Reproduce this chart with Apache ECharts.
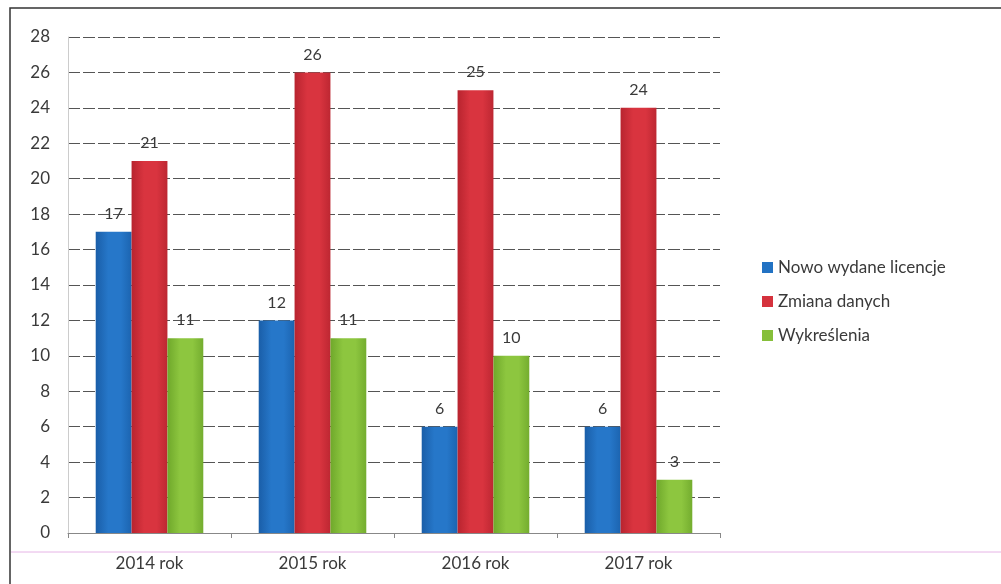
<!DOCTYPE html>
<html><head><meta charset="utf-8">
<script src="https://cdn.jsdelivr.net/npm/echarts@6/dist/echarts.min.js"></script>
<style>html,body{margin:0;padding:0;background:#fff}#c{width:1001px;height:584px}</style>
</head><body><div id="c"></div>
<script>
const categories = ['2014 rok','2015 rok','2016 rok','2017 rok'];
const nowoWydane = [17, 12, 6, 6];
const zmianaDanych = [21, 26, 25, 24];
const wykreslenia = [11, 11, 10, 3];
const seriesNames = ['Nowo wydane licencje','Zmiana danych','Wykreślenia'];

function grad(dark, mid, light){
  return new echarts.graphic.LinearGradient(0,0,1,0,[
    {offset:0,color:dark},{offset:0.35,color:mid},{offset:0.7,color:mid},{offset:1,color:light}]);
}
const colors = [
  grad('#1a5ea8','#2677c9','#1c64b0'),
  grad('#b8242f','#d9343f','#bd2732'),
  grad('#6fa82b','#8dc63f','#74ad2f')
];
const legendColors = ['#2272c3','#d5323d','#86bf3a'];
const FONT = 'Lato';

const chart = echarts.init(document.getElementById('c'));
const mk = (name, data, i) => ({
  name, type:'bar', data, barGap:'0%', barCategoryGap:'34%',
  itemStyle:{color:colors[i]},
  label:{show:true, position:'top', color:'#3a3a3a', fontSize:16, fontFamily:FONT, distance:10}
});
chart.setOption({
  animation:false,
  color: legendColors,
  graphic:[
    {type:'rect', shape:{x:10,y:8,width:1000,height:590}, style:{fill:'none',stroke:'#333',lineWidth:1.5}, z:-1},
    {type:'line', shape:{x1:11,y1:552,x2:1001,y2:552}, style:{stroke:'#e6b4e6',lineWidth:1}}
  ],
  grid:{left:68, right:281, top:37, bottom:51, containLabel:false},
  legend:{
    orient:'vertical', left:757, top:254, itemGap:17, itemWidth:11, itemHeight:11,
    icon:'rect',
    textStyle:{fontSize:17, color:'#3a3a3a', fontFamily:FONT},
    data:seriesNames.map((n,i)=>({name:n, itemStyle:{color:legendColors[i]}}))
  },
  xAxis:{
    type:'category', data:categories,
    axisLine:{show:true, lineStyle:{color:'#888'}},
    axisTick:{show:true, alignWithLabel:false, lineStyle:{color:'#888'}},
    axisLabel:{fontSize:17, color:'#3a3a3a', margin:22, fontFamily:FONT}
  },
  yAxis:{
    type:'value', min:0, max:28, interval:2,
    axisLine:{show:true, lineStyle:{color:'#ccc'}},
    axisTick:{show:false},
    axisLabel:{fontSize:17, color:'#3a3a3a', margin:18, fontFamily:FONT},
    splitLine:{lineStyle:{color:'#555', type:[12,3], width:1}}
  },
  series:[
    mk(seriesNames[0], nowoWydane, 0),
    mk(seriesNames[1], zmianaDanych, 1),
    mk(seriesNames[2], wykreslenia, 2)
  ]
});
</script></body></html>
